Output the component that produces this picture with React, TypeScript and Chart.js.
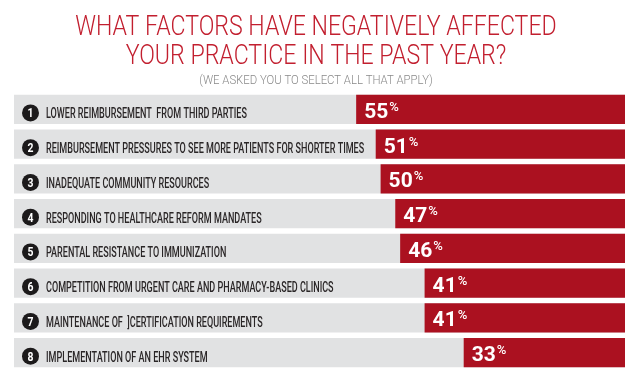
import React, { useEffect, useRef } from "react";
import { Chart, registerables } from "chart.js";

Chart.register(...registerables);

const titleLines = ["WHAT FACTORS HAVE NEGATIVELY AFFECTED", "YOUR PRACTICE IN THE PAST YEAR?"];
const subtitle = "(WE ASKED YOU TO SELECT ALL THAT APPLY)";
const categories = [
  "LOWER REIMBURSEMENT  FROM THIRD PARTIES",
  "REIMBURSEMENT PRESSURES TO SEE MORE PATIENTS FOR SHORTER TIMES",
  "INADEQUATE COMMUNITY RESOURCES",
  "RESPONDING TO HEALTHCARE REFORM MANDATES",
  "PARENTAL RESISTANCE TO IMMUNIZATION",
  "COMPETITION FROM URGENT CARE AND PHARMACY-BASED CLINICS",
  "MAINTENANCE OF  ]CERTIFICATION REQUIREMENTS",
  "IMPLEMENTATION OF AN EHR SYSTEM",
];
const itemNumbers = ["1", "2", "3", "4", "5", "6", "7", "8"];
const values = [55, 51, 50, 47, 46, 41, 41, 33];
const trackMax = 125;
const trackValues = categories.map(() => trackMax);

const RED = "#ab1120";
const GRAY = "#e1e2e3";
const TITLE_RED = "#c21f2f";

function drawSqueezed(ctx: CanvasRenderingContext2D, text: string, x: number, y: number, sx: number, align: CanvasTextAlign) {
  ctx.save();
  ctx.translate(x, y);
  ctx.scale(sx, 1);
  ctx.textAlign = align;
  ctx.fillText(text, 0, 0);
  ctx.restore();
}

const decorPlugin = {
  id: "decor",
  afterDatasetsDraw(chart: any) {
    const ctx: CanvasRenderingContext2D = chart.ctx;
    const area = chart.chartArea;
    const meta = chart.getDatasetMeta(1);
    ctx.save();
    ctx.textBaseline = "alphabetic";

    // title
    ctx.fillStyle = TITLE_RED;
    ctx.font = "300 28px Roboto";
    drawSqueezed(ctx, titleLines[0], 316, 35, 0.826, "center");
    drawSqueezed(ctx, titleLines[1], 316, 64, 0.826, "center");
    ctx.fillStyle = "#8a8a8a";
    ctx.font = "300 12px Roboto";
    drawSqueezed(ctx, subtitle, 316, 84, 0.945, "center");

    meta.data.forEach((bar: any, i: number) => {
      const cy = bar.y;
      // number circle
      ctx.fillStyle = "#1c1a1b";
      ctx.beginPath();
      ctx.arc(area.left + 16.5, cy + 3.5, 8.5, 0, Math.PI * 2);
      ctx.fill();
      ctx.fillStyle = "#ffffff";
      ctx.font = "bold 13px Roboto";
      drawSqueezed(ctx, itemNumbers[i], area.left + 16.5, cy + 8, 0.8, "center");
      // label
      ctx.fillStyle = "#2a2627";
      ctx.font = "500 15px Roboto";
      drawSqueezed(ctx, categories[i], area.left + 32, cy + 9, 0.603, "left");
      // percent
      const left = Math.min(bar.x, bar.base);
      ctx.fillStyle = "#ffffff";
      ctx.font = "bold 21px Roboto";
      ctx.textAlign = "left";
      const txt = String(values[i]);
      ctx.fillText(txt, left + 8, cy + 8.5);
      const w = ctx.measureText(txt).width;
      ctx.font = "500 13px Roboto";
      ctx.fillText("%", left + 8 + w + 1, cy + 1.5);
    });
    ctx.restore();
  },
};

export default function App() {
  const ref = useRef<HTMLCanvasElement>(null);
  useEffect(() => {
    if (!ref.current) return;
    const chart = new Chart(ref.current, {
      type: "bar",
      data: {
        labels: categories,
        datasets: [
          {
            data: trackValues,
            backgroundColor: GRAY,
            order: 2,
            grouped: false,
            categoryPercentage: 1,
            barPercentage: 0.835,
          } as any,
          {
            data: values,
            backgroundColor: RED,
            order: 1,
            grouped: false,
            categoryPercentage: 1,
            barPercentage: 0.835,
          } as any,
        ],
      },
      options: {
        indexAxis: "y",
        responsive: false,
        animation: false,
        devicePixelRatio: 1,
        layout: { padding: { top: 92, bottom: 10, left: 14, right: 15 } },
        plugins: { legend: { display: false }, tooltip: { enabled: false }, title: { display: false } },
        scales: {
          x: { display: false, reverse: true, min: 0, max: trackMax },
          y: { display: false },
        },
      },
      plugins: [decorPlugin],
    });
    return () => chart.destroy();
  }, []);
  return (
    <div style={{ position: "absolute", left: 0, top: 0, width: 640, height: 380, background: "#ffffff" }}>
      <canvas ref={ref} width={640} height={380} />
    </div>
  );
}
